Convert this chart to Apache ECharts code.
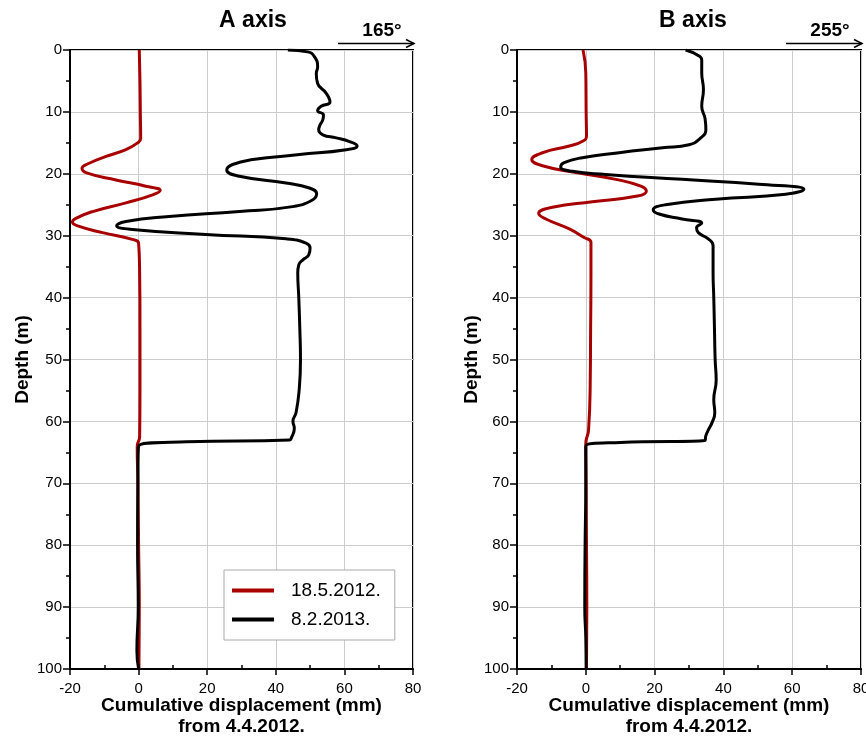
<!DOCTYPE html>
<html>
<head>
<meta charset="utf-8">
<script src="https://cdn.jsdelivr.net/npm/echarts@6/dist/echarts.min.js"></script>
<style>
  html, body { margin: 0; padding: 0; background: #fff; }
  #main { width: 866px; height: 740px; }
</style>
</head>
<body>
<div id="main"></div>
<script>
// A axis, 18.5.2012.
const aRedDepth = [0, 5, 10, 14.3, 15.0, 16.1, 17.2, 18.3, 19.1, 19.9, 21.0, 22.0, 22.7, 23.4, 24.7, 26.1, 27.2, 27.8, 28.5, 29.5, 30.6, 31.2, 36, 45, 55, 62.5, 64, 70, 80, 90, 100];
const aRedDisp = [0.2, 0.4, 0.5, 0.6, -0.3, -3.7, -9.5, -14.4, -16.5, -14.9, -6.6, 2.1, 6.3, 4.1, -3.7, -13.4, -18.3, -19.3, -17.3, -10.5, -1.8, 0, 0.3, 0.4, 0.4, 0.3, -0.4, -0.2, 0, 0.2, 0.1];
// A axis, 8.2.2013.
const aBlackDepth = [0, 0.3, 1.1, 2.7, 3.8, 5.4, 7.0, 8.4, 9.1, 9.8, 10.5, 11.3, 12.1, 12.9, 13.7, 14.2, 14.8, 15.5, 16.1, 16.9, 17.7, 18.5, 19.4, 20.4, 21.5, 22.3, 23.2, 24.2, 25.3, 26.1, 26.9, 27.7, 28.4, 29.0, 29.8, 30.5, 31.2, 32.0, 33.1, 33.9, 34.7, 36, 40, 45, 50, 55, 58.6, 60, 61.1, 62.7, 63.0, 63.3, 64.0, 70, 80, 90, 97, 100];
const aBlackDisp = [43.5, 49.3, 51.3, 52.2, 51.8, 52.2, 54.7, 55.8, 53.2, 52.2, 53.9, 53.7, 52.9, 52.5, 53.7, 57.6, 61.5, 63.7, 60.5, 46.9, 33.3, 27.4, 25.7, 29.4, 43, 49.8, 51.9, 50.8, 44.9, 29.4, 8.9, -3.7, -6.4, -1.8, 19.6, 43, 48.8, 50, 49.6, 47.9, 46.7, 46.4, 46.7, 47, 47.2, 46.8, 45.9, 45, 45.4, 44.5, 44, 14, 0, -0.2, -0.3, -0.1, -0.5, 0];
// B axis, 18.5.2012.
const bRedDepth = [0, 3.7, 10, 13.9, 14.7, 15.5, 16.6, 17.7, 18.7, 19.8, 20.9, 22.0, 22.8, 23.6, 24.5, 25.4, 26.4, 27.3, 28.9, 30.3, 31.1, 36, 45, 53, 61.4, 63.6, 70, 80, 90, 100];
const bRedDisp = [-0.8, 0, 0.1, 0.2, -0.8, -4.8, -12.6, -15.7, -12.6, -2.9, 8.7, 16, 17.6, 15, 1.9, -9.7, -13.7, -11.6, -4.8, -0.5, 1.5, 1.5, 1.4, 1.3, 0.8, 0, 0.1, 0.2, 0.3, 0.2];
// B axis, 8.2.2013.
const bBlackDepth = [0, 0.8, 1.6, 3.7, 6.4, 9.1, 11.2, 12.9, 14.2, 15.3, 15.8, 16.6, 17.4, 18.2, 18.9, 19.6, 20.1, 20.9, 21.7, 22.5, 23.3, 24.1, 25.0, 25.8, 26.5, 27.3, 28.0, 28.7, 29.5, 30.5, 31.6, 36, 40, 45, 50, 53.3, 56.5, 58.6, 60.2, 61.3, 62.3, 63.1, 63.4, 64.0, 70, 80, 90, 95, 100];
const bBlackDisp = [29, 32.4, 33.7, 33.7, 34.2, 33.7, 34.7, 34.9, 33.4, 30, 22.3, 9.7, -1, -6.3, -7.3, -3.9, 5.8, 28, 50.3, 63.4, 58.1, 37.8, 23.2, 19.6, 21.3, 28, 33.7, 32.2, 32.7, 35.6, 37, 37, 37.2, 37.4, 37.6, 37.9, 37.2, 37.5, 36.7, 35.7, 34.9, 34.6, 10, 0, 0, -0.2, -0.3, 0, 0.1];

const seriesNames = ["18.5.2012.", "8.2.2013."];
const panelTitles = ["A axis", "B axis"];
const directions = ["165°", "255°"];

const font = "Liberation Sans";
const red = "#a80000";

function pairs(xs, ys) {
  return xs.map((d, i) => [ys[i], d]);
}

const grids = [
  { left: 70, top: 50, width: 343, height: 619, outerBoundsMode: "none", containLabel: false },
  { left: 517, top: 50, width: 344, height: 619, outerBoundsMode: "none", containLabel: false }
];

function mainX(i) {
  return {
    type: "value",
    gridIndex: i,
    min: -20,
    max: 80,
    interval: 20,
    position: "bottom",
    axisLine: { onZero: false, lineStyle: { color: "#000", width: 2 } },
    axisTick: { length: 6, lineStyle: { color: "#000", width: 1.5 } },
    axisLabel: { color: "#000", fontSize: 15, fontFamily: font, margin: 12 },
    splitLine: { show: true, lineStyle: { color: "#cccccc", width: 1 } },
    name: "Cumulative displacement (mm)\nfrom 4.4.2012.",
    nameLocation: "middle",
    nameGap: 26,
    nameMoveOverlap: false,
    nameTextStyle: { color: "#000", fontSize: 19, fontWeight: "bold", fontFamily: font, lineHeight: 21 }
  };
}
// second bottom axis, only for the short inward minor ticks
function minorX(i) {
  return {
    type: "value",
    gridIndex: i,
    min: -20,
    max: 80,
    interval: 20,
    position: "bottom",
    axisLine: { show: false, onZero: false },
    axisTick: { show: false, inside: true },
    minorTick: { show: true, splitNumber: 2, length: 4, lineStyle: { color: "#000", width: 1.5 } },
    axisLabel: { show: false },
    splitLine: { show: false }
  };
}
function mainY(i, gap) {
  return {
    type: "value",
    gridIndex: i,
    inverse: true,
    min: 0,
    max: 100,
    interval: 10,
    axisLine: { onZero: false, lineStyle: { color: "#000", width: 2 } },
    axisTick: { length: 7, lineStyle: { color: "#000", width: 1.5 } },
    minorTick: { show: true, splitNumber: 2, length: 4, lineStyle: { color: "#000", width: 1.5 } },
    axisLabel: { color: "#000", fontSize: 15, fontFamily: font, margin: 8 },
    splitLine: { show: true, lineStyle: { color: "#cccccc", width: 1 } },
    name: "Depth (m)",
    nameLocation: "middle",
    nameGap: gap,
    nameMoveOverlap: false,
    nameTextStyle: { color: "#000", fontSize: 19, fontWeight: "bold", fontFamily: font }
  };
}
function hiddenY(i) {
  return { type: "value", gridIndex: i, inverse: true, min: 0, max: 100, show: false, axisLine: { onZero: false } };
}

function line(name, color, xi, xs, ys) {
  return {
    name: name,
    type: "line",
    xAxisIndex: xi,
    yAxisIndex: xi,
    data: pairs(xs, ys),
    showSymbol: false,
    smooth: 0.5,
    lineStyle: { color: color, width: 3 },
    itemStyle: { color: color },
    silent: true
  };
}

function headerGraphics(cx, ax0, ax1, title, dir) {
  return [
    { type: "text", x: cx, y: 21, style: { text: title, fill: "#000", font: "bold 23px " + font, textAlign: "center", textVerticalAlign: "middle" } },
    { type: "text", x: (ax0 + ax1) / 2 + 6, y: 31, style: { text: dir, fill: "#000", font: "bold 19px " + font, textAlign: "center", textVerticalAlign: "middle" } },
    { type: "line", shape: { x1: ax0, y1: 43.5, x2: ax1, y2: 43.5 }, style: { stroke: "#000", lineWidth: 1.5 } },
    { type: "polyline", shape: { points: [[ax1 - 8, 39.5], [ax1, 43.5], [ax1 - 8, 47.5]] }, style: { stroke: "#000", lineWidth: 1.5, fill: null } }
  ];
}

var myChart = echarts.init(document.getElementById("main"), null, { renderer: "canvas" });
myChart.setOption({
  animation: false,
  backgroundColor: "#fff",
  grid: [
    Object.assign({ show: true, borderColor: "#000", borderWidth: 2 }, grids[0]),
    Object.assign({ show: true, borderColor: "#000", borderWidth: 2 }, grids[1]),
    Object.assign({}, grids[0]),
    Object.assign({}, grids[1])
  ],
  xAxis: [mainX(0), mainX(1), minorX(2), minorX(3)],
  yAxis: [mainY(0, 38), mainY(1, 36), hiddenY(2), hiddenY(3)],
  legend: {
    data: seriesNames,
    orient: "vertical",
    left: 224,
    top: 570,
    padding: [11, 14, 11, 8],
    itemWidth: 42,
    itemHeight: 4,
    itemGap: 10,
    icon: "rect",
    backgroundColor: "#fff",
    borderColor: "#aaaaaa",
    borderWidth: 1,
    textStyle: { color: "#000", fontSize: 19, fontFamily: font, padding: [0, 0, 0, 12] }
  },
  graphic: [].concat(
    headerGraphics(253, 338, 414, panelTitles[0], directions[0]),
    headerGraphics(693, 786, 862, panelTitles[1], directions[1])
  ),
  series: [
    line(seriesNames[0], red, 0, aRedDepth, aRedDisp),
    line(seriesNames[1], "#000", 0, aBlackDepth, aBlackDisp),
    line(seriesNames[0], red, 1, bRedDepth, bRedDisp),
    line(seriesNames[1], "#000", 1, bBlackDepth, bBlackDisp)
  ]
});
</script>
</body>
</html>
